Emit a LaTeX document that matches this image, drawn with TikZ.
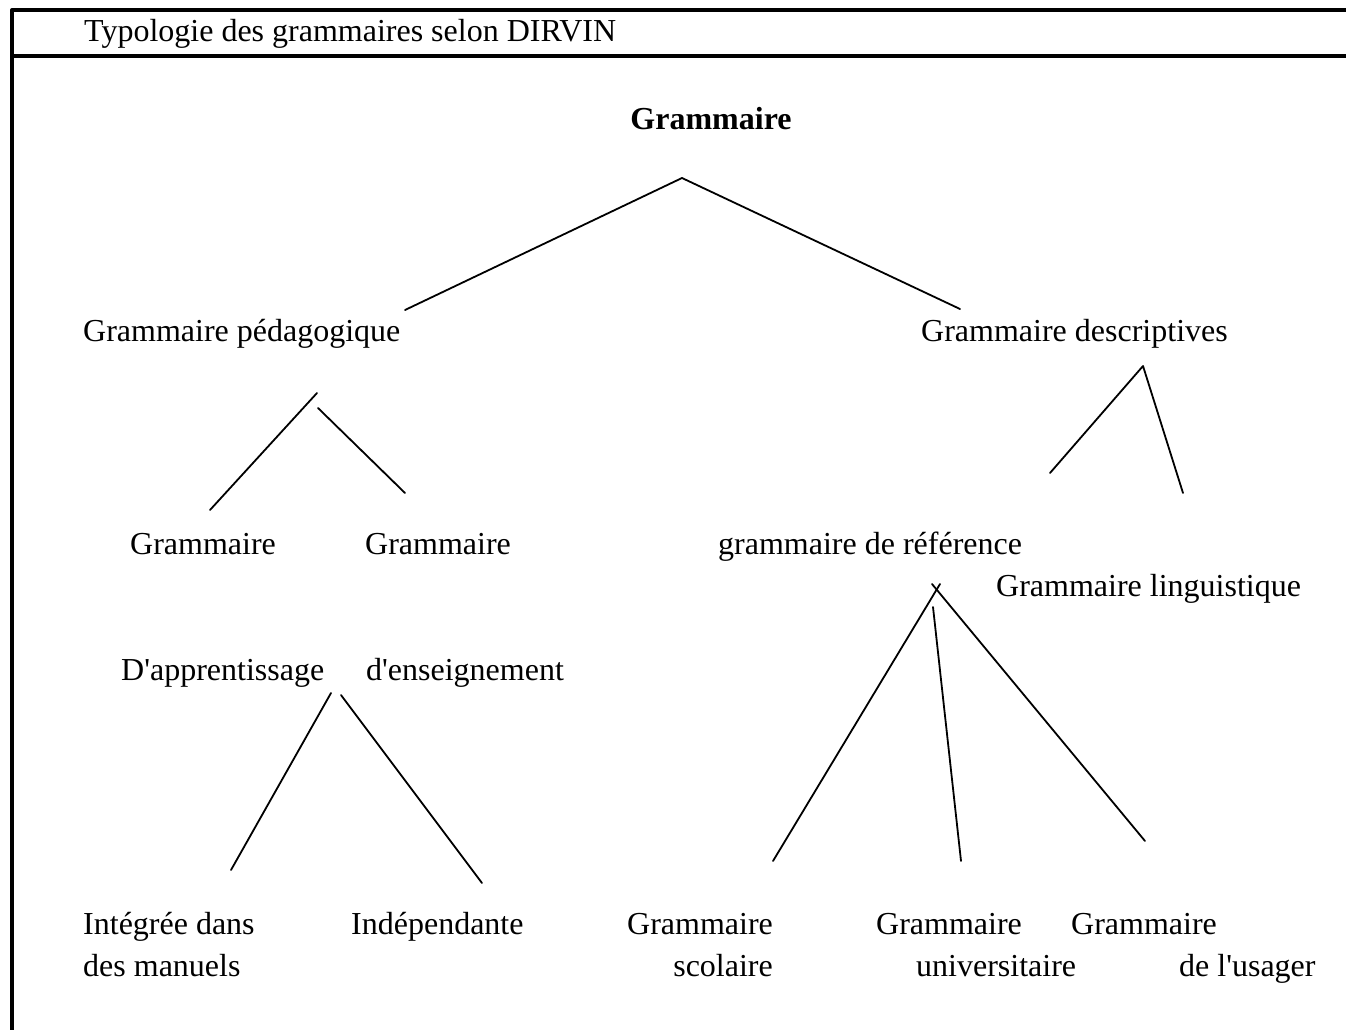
\documentclass[tikz,border=0pt]{standalone}
\usepackage{fontspec}
\setmainfont{Liberation Serif}
\newcommand{\apos}{\textquotesingle}
\tikzset{
  trait/.style={line width=1.8pt},
  cadre/.style={line width=4pt},
  txt/.style={anchor=base west, inner sep=0pt}
}
\begin{document}
\begin{tikzpicture}[x=1pt, y=-1pt, font=\fontsize{32}{38}\selectfont, line join=round,
        line cap=round]
        \useasboundingbox (0,0) rectangle (1346,1030);
        
        % cadre et titre
        \draw[cadre, line cap=butt] (1350,10)--(12,10)--(12,1034) (12,56)--(1350,56);
        \node[txt] (titre) at (84,42) {Typologie des grammaires selon DIRVIN};
        
        % textes
        \node[anchor=base, inner sep=0pt, font=\fontsize{32}{38}\selectfont\bfseries] 
        (gram) at (711,130) {Grammaire};
        \node[txt] (peda) at (83,341) {Grammaire pédagogique};
        \node[txt] (desc) at (921,341) {Grammaire descriptives};
        \node[txt] (app1) at (130,554) {Grammaire};
        \node[txt] (ens1) at (365,554) {Grammaire};
        \node[txt] (ref) at (718,554) {grammaire de référence};
        \node[txt] (ling) at (996,596) {Grammaire linguistique};
        \node[txt] (app2) at (121,680) {D\apos apprentissage};
        \node[txt] (ens2) at (366,680) {d\apos enseignement};
        \node[txt] (int1) at (83,934) {Intégrée dans};
        \node[txt] (int2) at (83,976) {des manuels};
        \node[txt] (ind) at (351,934) {Indépendante};
        \node[txt] (sco1) at (627,934) {Grammaire};
        \node[anchor=base east, inner sep=0pt] (sco2) at (773,976) {scolaire};
        \node[txt] (uni1) at (876,934) {Grammaire};
        \node[txt] (uni2) at (916,976) {universitaire};
        \node[txt] (usa1) at (1071,934) {Grammaire};
        \node[txt] (usa2) at (1179,976) {de l\apos usager};
        
        % traits
        \path 
        (682,178) coordinate (g0) (405,310) coordinate (g1) (960,309) coordinate (g2)
        (317,393) coordinate (p0) (210,510) coordinate (p1) 
        (318,408) coordinate (p2) (405,493) coordinate (p3)
        (1143,366) coordinate (d0) (1050,473) coordinate (d1) (1183,493) coordinate (d2)
        (331,693) coordinate (a0) (231,870) coordinate (a1) 
        (341,695) coordinate (a2) (482,883) coordinate (a3)
        (940,584) coordinate (r0) (773,861) coordinate (r1) 
        (933,607) coordinate (r2) (961,861) coordinate (r3)
        (932,584) coordinate (r4) (1145,841) coordinate (r5);
        \draw[trait] (g1)--(g0)--(g2) (d1)--(d0)--(d2);
        \foreach \a/\b in {p0/p1,p2/p3,a0/a1,a2/a3,r0/r1,r2/r3,r4/r5}
        \draw[trait] (\a)--(\b);
    \end{tikzpicture}
\end{document}
